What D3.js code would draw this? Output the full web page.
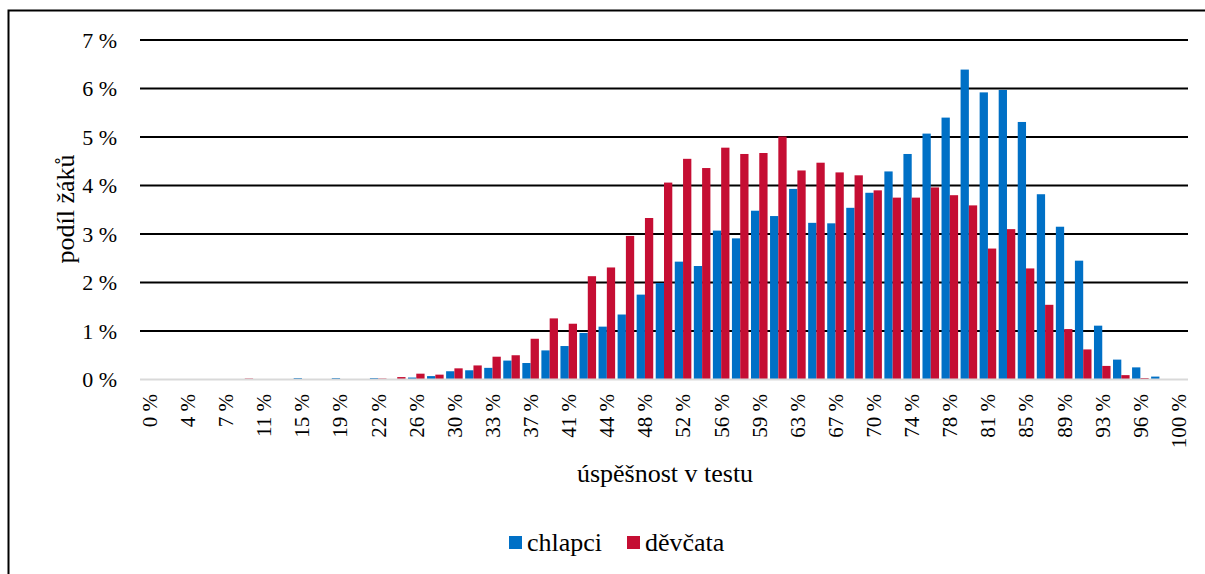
<!DOCTYPE html>
<html>
<head>
<meta charset="utf-8">
<script src="https://cdn.jsdelivr.net/npm/d3@7"></script>
<style>
  body { margin: 0; background: #fff; }
  text { font-family: "Liberation Serif", "Times New Roman", serif; fill: #000; }
</style>
</head>
<body>
<div id="chart"></div>
<script>
// categories (test success), every other one gets a visible label
const categories = ["0 %","2 %","4 %","6 %","7 %","9 %","11 %","13 %","15 %","17 %","19 %","20 %","22 %","24 %",
  "26 %","28 %","30 %","31 %","33 %","35 %","37 %","39 %","41 %","43 %","44 %","46 %","48 %","50 %",
  "52 %","54 %","56 %","57 %","59 %","61 %","63 %","65 %","67 %","69 %","70 %","72 %","74 %","76 %",
  "78 %","80 %","81 %","83 %","85 %","87 %","89 %","91 %","93 %","94 %","96 %","98 %","100 %"];

// share of pupils (%), boys
const chlapci = [0,0,0,0,0,0,0,0,0.03,0,0.03,0,0.03,0,
  0.04,0.07,0.17,0.19,0.24,0.39,0.34,0.60,0.69,0.96,1.09,1.34,1.75,1.99,
  2.43,2.34,3.07,2.91,3.48,3.37,3.93,3.23,3.22,3.54,3.85,4.29,4.65,5.07,
  5.40,6.39,5.92,5.97,5.31,3.82,3.15,2.45,1.11,0.41,0.25,0.06,0];

// share of pupils (%), girls
const devcata = [0,0,0,0,0,0.02,0,0,0,0,0,0,0.02,0.05,
  0.12,0.10,0.23,0.29,0.47,0.50,0.84,1.26,1.15,2.13,2.31,2.96,3.33,4.06,
  4.55,4.36,4.78,4.65,4.67,5.01,4.31,4.47,4.27,4.21,3.90,3.75,3.75,3.96,
  3.80,3.59,2.70,3.10,2.29,1.54,1.04,0.62,0.28,0.09,0.03,0.01,0];

const series = ["chlapci", "děvčata"];
const yTicks = [0, 1, 2, 3, 4, 5, 6, 7];

const colors = { "chlapci": "#0070c6", "děvčata": "#c50e33" };

const W = 1205, H = 574;
const plot = { left: 140, right: 1188, top: 40, bottom: 379.5 };

const svg = d3.select("#chart").append("svg")
  .attr("width", W).attr("height", H);

svg.append("rect").attr("width", W).attr("height", H).attr("fill", "#fff");

// outer frame (runs off the right and bottom edges)
svg.append("rect")
  .attr("x", 8.5).attr("y", 10.5)
  .attr("width", 1300).attr("height", 1000)
  .attr("fill", "none").attr("stroke", "#000").attr("stroke-width", 2);

const x = d3.scaleBand()
  .domain(categories)
  .range([plot.left, plot.right])
  .paddingInner(0.13)
  .paddingOuter(0.065);

const xs = d3.scaleBand().domain(series).range([0, x.bandwidth()]);

const y = d3.scaleLinear().domain([0, 7]).range([plot.bottom, plot.top]);

// gridlines
svg.append("g")
  .selectAll("line")
  .data(yTicks.filter(d => d > 0))
  .enter().append("line")
  .attr("x1", plot.left).attr("x2", plot.right)
  .attr("y1", d => y(d)).attr("y2", d => y(d))
  .attr("stroke", "#000").attr("stroke-width", 2);

// y tick labels
svg.append("g")
  .selectAll("text")
  .data(yTicks)
  .enter().append("text")
  .attr("x", 117)
  .attr("y", d => y(d))
  .attr("dy", "0.35em")
  .attr("text-anchor", "end")
  .style("font-size", "22px")
  .text(d => d + " %");

const rows = categories.map((c, i) => ({ cat: c, vals: [chlapci[i], devcata[i]] }));

// bars
const groups = svg.append("g")
  .selectAll("g")
  .data(rows)
  .enter().append("g")
  .attr("transform", d => "translate(" + x(d.cat) + ",0)");

groups.selectAll("rect")
  .data(d => d.vals.map((v, j) => ({ key: series[j], v: v })))
  .enter().append("rect")
  .attr("x", d => xs(d.key))
  .attr("width", xs.bandwidth())
  .attr("y", d => y(d.v))
  .attr("height", d => y(0) - y(d.v))
  .attr("fill", d => colors[d.key]);

// base line
svg.append("line")
  .attr("x1", plot.left).attr("x2", plot.right)
  .attr("y1", y(0)).attr("y2", y(0))
  .attr("stroke", "#d9d9d9").attr("stroke-width", 2);

// x tick labels, every other category
svg.append("g")
  .selectAll("text")
  .data(categories.filter((c, i) => i % 2 === 0))
  .enter().append("text")
  .attr("transform", d => "translate(" + (x(d) + x.bandwidth() / 2) + ",394) rotate(-90)")
  .attr("dy", "0.35em")
  .attr("text-anchor", "end")
  .style("font-size", "21px")
  .text(d => d);

// axis titles
svg.append("text")
  .attr("x", 665).attr("y", 482)
  .attr("text-anchor", "middle")
  .style("font-size", "26px")
  .text("úspěšnost v testu");

svg.append("text")
  .attr("transform", "translate(65,209) rotate(-90)")
  .attr("dy", "0.35em")
  .attr("text-anchor", "middle")
  .style("font-size", "26px")
  .text("podíl žáků");

// legend
const legendX = [509, 627];
const legend = svg.append("g")
  .selectAll("g")
  .data(series)
  .enter().append("g")
  .attr("transform", (d, i) => "translate(" + legendX[i] + ",536)");

legend.append("rect")
  .attr("width", 13).attr("height", 13)
  .attr("fill", d => colors[d]);

legend.append("text")
  .attr("x", 18).attr("y", 15)
  .style("font-size", "26px")
  .text(d => d);
</script>
</body>
</html>
